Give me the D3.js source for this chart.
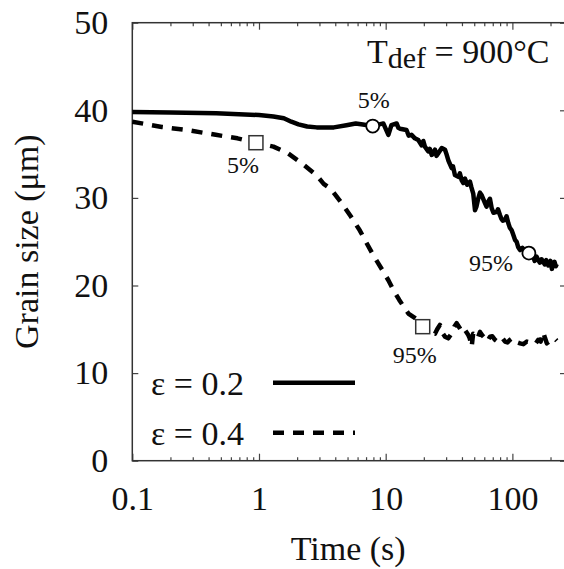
<!DOCTYPE html>
<html>
<head>
<meta charset="utf-8">
<script src="https://cdn.jsdelivr.net/npm/d3@7"></script>
<style>
  body { margin: 0; background: #fff; }
</style>
</head>
<body>
<script>
const [W, H] = [564, 569];
const M = { left: 132.3, right: 566, top: 22.7, bottom: 460.7 };
const FONT = '"Liberation Serif"';

// data (time in s, grain size in um)
const eps02 = [
  [0.1, 39.8], [0.2, 39.75], [0.46, 39.65], [1, 39.46], [1.3, 39.3], [1.57, 39.1], [1.8, 38.7],
  [2.05, 38.4], [2.4, 38.15], [2.85, 38.05], [3.9, 38.05], [4.9, 38.3], [5.8, 38.5], [6.4, 38.4],
  [7.9, 38.2], [9.58, 38.5], [10.5, 37.2], [11.1, 38.3], [12.2, 38.5], [12.6, 38.0], [13.0, 37.9],
  [14.6, 37.75], [15.2, 37.1], [16.0, 37.2], [17.0, 36.8], [18.1, 36.6], [19.2, 36.0], [19.8, 36.5],
  [20.4, 35.85], [21.7, 35.3], [22.3, 35.6], [23.1, 34.9], [24.5, 35.5], [25.2, 34.8], [26.0, 35.1],
  [27.7, 35.7], [29.4, 35.5], [30.2, 35.0], [31.2, 34.3], [33.2, 33.4], [34.0, 33.6], [35.2, 32.6],
  [37.4, 32.4], [38.5, 32.8], [39.8, 32.0], [41.0, 31.7], [42.3, 32.2], [44.0, 31.5], [46.3, 31.85],
  [47.5, 31.2], [49.1, 30.5], [50.7, 28.6], [52.0, 29.0], [53.8, 29.95], [55.5, 30.6], [57.3, 30.3],
  [60.8, 29.4], [62.5, 29.0], [64.6, 29.6], [66.5, 29.9], [68.7, 28.8], [71.0, 28.3], [75.2, 28.4],
  [77.0, 28.7], [79.8, 28.05], [82.0, 27.6], [84.0, 27.4], [87.4, 27.5], [90.0, 27.9], [92.9, 27.1],
  [95.5, 26.6], [98.7, 26.3], [101, 25.9], [105, 25.2], [108, 25.0], [111, 24.4], [115, 24.05],
  [120, 24.3], [125, 23.9], [134, 23.7], [140, 23.8], [146, 23.3], [150, 22.8], [155, 23.3],
  [160, 22.9], [165, 22.6], [170, 23.0], [175, 22.7], [180, 22.4], [185, 22.9], [192, 22.3],
  [200, 22.8], [205, 21.9], [210, 22.5], [215, 22.7], [220, 22.2], [224, 22.45]
];
const eps04 = [
  [0.1, 38.7], [0.171, 38.1], [0.27, 37.75], [0.456, 37.2], [0.676, 36.8], [0.946, 36.3],
  [1.3, 35.85], [1.69, 35.1], [2.18, 33.95], [2.84, 32.6], [3.24, 31.6], [3.7, 31.0], [4.5, 29.4],
  [5.3, 27.9], [6.24, 26.3], [7.1, 24.8], [8.1, 23.3], [9.2, 22.0], [10.5, 20.6], [11.5, 19.5],
  [12.8, 18.35], [14.0, 17.5], [15.1, 16.8], [17.8, 16.1], [19.6, 15.3], [21.0, 14.8], [22.4, 15.1],
  [23.2, 14.6], [24.5, 14.5], [25.5, 15.0], [26.8, 15.5], [28.0, 14.6], [29.4, 14.15], [31.2, 13.97],
  [33.2, 14.55], [34.8, 15.3], [36.3, 15.7], [38.6, 15.1], [40.5, 14.6], [42.3, 14.9], [44.9, 14.35],
  [46.0, 14.0], [47.7, 13.0], [49.0, 14.5], [50.7, 14.35], [53.0, 13.9], [55.5, 14.7], [58.0, 14.3],
  [60.8, 13.97], [63.5, 13.6], [66.5, 14.15], [69.5, 14.2], [72.9, 13.8], [76.0, 13.6], [79.8, 13.97],
  [83.5, 14.0], [87.4, 13.6], [91.5, 13.5], [95.7, 13.8], [100, 14.0], [105, 13.8], [110, 13.5],
  [115, 13.4], [122, 13.3], [130, 13.6], [138, 13.5], [146, 13.6], [153, 13.4], [160, 13.8],
  [167, 13.6], [175, 14.7], [181, 14.0], [187, 13.4], [195, 13.6], [204, 13.8], [214, 14.0], [224, 13.7]
];
const circles02 = [[7.9, 38.2, '5%'], [135, 23.7, '95%']];
const squares04 = [[0.946, 36.3, '5%'], [19.6, 15.3, '95%']];
const xTicks = [0.1, 1, 10, 100];
const yTicks = [0, 10, 20, 30, 40, 50];
const legendLabels = ['\u03b5 = 0.2', '\u03b5 = 0.4'];

function main() {
    const svg = d3.select('body').append('svg').attr('width', W).attr('height', H);

    const x = d3.scaleLog().domain([0.1, 265]).range([M.left, M.right]);
    const y = d3.scaleLinear().domain([0, 50]).range([M.bottom, M.top]);

    const minor = [];
    [0.1, 1, 10, 100].forEach(d => { for (let k = 2; k <= 9; k++) if (d * k < 265) minor.push(d * k); });

    const fmt = d => d === 0.1 ? '0.1' : String(d);

    // bottom axis
    svg.append('g').attr('transform', `translate(0,${M.bottom})`)
        .call(d3.axisBottom(x).tickValues(xTicks).tickFormat(fmt).tickSizeInner(-7).tickSizeOuter(0).tickPadding(25));
    svg.append('g').attr('transform', `translate(0,${M.bottom})`)
        .call(d3.axisBottom(x).tickValues(minor).tickFormat('').tickSizeInner(-3.5).tickSizeOuter(0));
    // top axis (mirror ticks)
    svg.append('g').attr('transform', `translate(0,${M.top})`)
        .call(d3.axisTop(x).tickValues(xTicks).tickFormat('').tickSizeInner(-7).tickSizeOuter(0));
    svg.append('g').attr('transform', `translate(0,${M.top})`)
        .call(d3.axisTop(x).tickValues(minor).tickFormat('').tickSizeInner(-3.5).tickSizeOuter(0));
    // left axis
    svg.append('g').attr('transform', `translate(${M.left},0)`)
        .call(d3.axisLeft(y).tickValues(yTicks).tickSizeInner(-6).tickSizeOuter(0).tickPadding(24));
    svg.append('g').attr('transform', `translate(${M.right},0)`)
        .call(d3.axisRight(y).tickValues(yTicks).tickFormat('').tickSizeInner(-6).tickSizeOuter(0));

    svg.selectAll('.domain').remove();
    svg.selectAll('.tick line').attr('stroke', '#444').attr('stroke-width', 1.2);
    svg.selectAll('.tick text').attr('font-size', 34).attr('fill', '#111');

    // frame
    svg.append('rect')
        .attr('x', M.left).attr('y', M.top)
        .attr('width', M.right - M.left).attr('height', M.bottom - M.top)
        .attr('fill', 'none').attr('stroke', '#333').attr('stroke-width', 1.5);

    // axis titles
    svg.append('text').attr('x', (M.left + 564) / 2).attr('y', 560)
        .attr('text-anchor', 'middle').attr('font-size', 34).attr('fill', '#111').text('Time (s)');
    svg.append('text').attr('transform', `translate(38,${(M.top + M.bottom) / 2}) rotate(-90)`)
        .attr('text-anchor', 'middle').attr('font-size', 34).attr('fill', '#111').text('Grain size (\u03bcm)');

    // lines
    const line = d3.line().x(d => x(d[0])).y(d => y(d[1]));
    svg.append('path').datum(eps04).attr('d', line)
        .attr('fill', 'none').attr('stroke', '#000').attr('stroke-width', 4.5)
        .attr('stroke-dasharray', '11,9').attr('stroke-linejoin', 'round');
    svg.append('path').datum(eps02).attr('d', line)
        .attr('fill', 'none').attr('stroke', '#000').attr('stroke-width', 4.5).attr('stroke-linejoin', 'round');

    // markers
    svg.selectAll('.sq').data(squares04).enter().append('rect')
        .attr('x', d => x(d[0]) - 7).attr('y', d => y(d[1]) - 7)
        .attr('width', 14).attr('height', 14)
        .attr('fill', '#fff').attr('stroke', '#333').attr('stroke-width', 1.5);
    svg.selectAll('.ci').data(circles02).enter().append('circle')
        .attr('cx', d => x(d[0])).attr('cy', d => y(d[1])).attr('r', 6.5)
        .attr('fill', '#fff').attr('stroke', '#000').attr('stroke-width', 1.8);

    // marker labels
    const circOff = [[1, -18], [-38, 18]];
    const sqOff = [[-13, 30], [-8, 36]];
    svg.selectAll('.cl').data(circles02).enter().append('text')
        .attr('x', (d, i) => x(d[0]) + circOff[i][0]).attr('y', (d, i) => y(d[1]) + circOff[i][1])
        .attr('text-anchor', 'middle').attr('font-size', 24).attr('fill', '#111').text(d => d[2]);
    svg.selectAll('.sl').data(squares04).enter().append('text')
        .attr('x', (d, i) => x(d[0]) + sqOff[i][0]).attr('y', (d, i) => y(d[1]) + sqOff[i][1])
        .attr('text-anchor', 'middle').attr('font-size', 24).attr('fill', '#111').text(d => d[2]);

    // temperature annotation
    const t = svg.append('text').attr('x', 367).attr('y', 63).attr('font-size', 34).attr('fill', '#111');
    t.append('tspan').text('T');
    t.append('tspan').attr('font-size', 30).attr('dy', 5).text('def');
    t.append('tspan').attr('dy', -5).text(' = 900\u00b0C');

    // legend
    const leg = svg.append('g').selectAll('g').data(legendLabels).enter().append('g')
        .attr('transform', (d, i) => `translate(0,${i * 50})`);
    leg.append('text').attr('x', 151).attr('y', 395).attr('font-size', 34).attr('fill', '#111').text(d => d);
    leg.append('line').attr('x1', 273).attr('x2', 355).attr('y1', 382.7).attr('y2', 382.7)
        .attr('stroke', '#000').attr('stroke-width', 4.5)
        .attr('stroke-dasharray', (d, i) => i ? '11,9' : null);

    // serif font on every text, set as inline style so the axis defaults do not win
    svg.selectAll('text').style('font-family', FONT);
}

document.addEventListener('DOMContentLoaded', main);
</script>
</body>
</html>
